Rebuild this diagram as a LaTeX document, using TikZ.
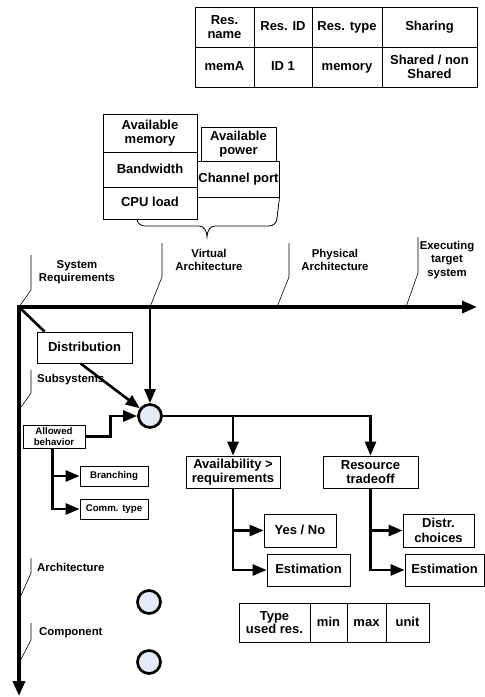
\documentclass[tikz,border=0pt]{standalone}
\usepackage{fontspec}
\setmainfont{Liberation Sans}
\usepackage{xcolor}
\usepackage{tikz}
\usetikzlibrary{arrows.meta, positioning, calc}
\definecolor{hubfill}{RGB}{228,235,246}
\newcommand{\txtsize}[2]{\fontsize{#1}{#2}\selectfont\bfseries}

\begin{document}
\begin{tikzpicture}[
    x=1pt, y=-1pt,
    node distance=0pt,
    cell/.style={rectangle, draw, line width=0.8pt, fill=white, align=center, inner sep=1pt, outer sep=0pt, font=\txtsize{13}{13.5}},
    oneline/.style={text height=9.5pt, text depth=2.5pt},
    block/.style={rectangle, draw, line width=0.8pt, fill=white, align=center, inner sep=1pt, font=\txtsize{13}{14.5}},
    smallblock/.style={block, font=\txtsize{9.7}{11}},
    phase/.style={align=center, inner sep=0pt, font=\txtsize{11.4}{13.5}},
    hub/.style={circle, draw, line width=2.7pt, fill=hubfill, minimum size=23pt, inner sep=0pt},
    arrow/.style={-{Triangle[length=14pt, width=11pt]}, line width=2.6pt},
    thickline/.style={line width=2.6pt},
    timeline/.style={line width=3.4pt, {Triangle[length=15pt, width=12pt]}-{Triangle[length=15pt, width=12pt]}},
    milestone/.style={line width=0.6pt},
    brace/.style={line width=0.8pt}
]
\useasboundingbox (0,0) rectangle (485,697);

% Resource table
\node[cell, minimum width=59pt, minimum height=40pt, anchor=north west] (resname) at (195,7) {Res.\\name};
\node[cell, oneline, minimum width=58pt, minimum height=40pt, right=of resname] (resid) {Res. ID};
\node[cell, oneline, minimum width=70pt, minimum height=40pt, right=of resid] (restype) {Res. type};
\node[cell, oneline, minimum width=95pt, minimum height=40pt, right=of restype] (sharing) {Sharing};
\node[cell, oneline, minimum width=59pt, minimum height=40pt, below=of resname] (mema) {memA};
\node[cell, oneline, minimum width=58pt, minimum height=40pt, below=of resid] (idone) {ID 1};
\node[cell, oneline, minimum width=70pt, minimum height=40pt, below=of restype] (memory) {memory};
\node[cell, minimum width=95pt, minimum height=40pt, below=of sharing] (shared) {Shared / non\\Shared};

% Available resources
\node[cell, minimum width=94pt, minimum height=38pt, anchor=north west] (availmem) at (103,114) {Available\\memory};
\node[cell, oneline, minimum width=94pt, minimum height=35pt, below=of availmem] (bandwidth) {Bandwidth};
\node[cell, oneline, minimum width=94pt, minimum height=32pt, below=of bandwidth] (cpuload) {CPU load};
\node[cell, minimum width=75pt, minimum height=34pt, anchor=north west] (availpow) at (201,127) {Available\\power};
\node[cell, oneline, minimum width=75pt, minimum height=36pt, below=of availpow] (channel) {Channel port};

\draw[brace] ($(cpuload.south west)+(34,0)$) to[out=-90, in=180] ++(8,7) -- (199,226)
    to[out=0, in=90] (207,237) to[out=90, in=180] (215,226) -- (269,226)
    to[out=0, in=-90] (277,218) -- (channel.south east);

% Time line and milestones
\coordinate (o) at (19,307);
\coordinate (tend) at (477,307);
\coordinate (vend) at (19,696);
\coordinate (va) at (150,307);

\foreach \xa/\ys/\yt in {19/290/255, 150/277/243, 277/277/243, 406/273/237}
    \draw[milestone] (\xa,307) -- (\xa+12,\ys) -- (\xa+12,\yt);
\foreach \yb/\ys/\yt in {410/393/370, 600/573/558, 663/640/623}
    \draw[milestone] (19,\yb) -- (31,\ys) -- (31,\yt);

\draw[timeline] (vend) -- (o) -- (tend);

\node[phase] (sysreq) at (77,272) {System\\Requirements};
\node[phase] (virtarch) at (209,260) {Virtual\\Architecture};
\node[phase] (physarch) at (335,260) {Physical\\Architecture};
\node[phase] (exec) at (447,260) {Executing\\target\\system};
\node[phase, anchor=west] (subsys) at (37,380) {Subsystems};
\node[phase, anchor=west] (archi) at (37,567) {Architecture};
\node[phase, anchor=west] (comp) at (39,633) {Component};

% Blocks
\node[block, oneline, minimum width=95pt, minimum height=31pt] (dist) at (84.5,347.5) {Distribution};
\node[smallblock, minimum width=62pt, minimum height=23pt] (allowed) at (54,436.5) {Allowed\\behavior};
\node[smallblock, minimum width=68pt, minimum height=20pt] (branch) at (114,476) {Branching};
\node[smallblock, minimum width=68pt, minimum height=20pt] (comm) at (114,509) {Comm. type};
\node[hub] (c1) at (150,416) {};
\node[block, minimum width=94pt, minimum height=32pt] (avail) at (233,472) {Availability >\\requirements};
\node[block, minimum width=95pt, minimum height=32pt] (tradeoff) at (370.5,472) {Resource\\tradeoff};
\node[block, oneline, minimum width=72pt, minimum height=33pt] (yesno) at (300,530.5) {Yes / No};
\node[block, oneline, minimum width=83pt, minimum height=32pt] (est1) at (308.5,570) {Estimation};
\node[block, minimum width=71pt, minimum height=33pt] (distr) at (438.5,530.5) {Distr.\\choices};
\node[block, oneline, minimum width=79pt, minimum height=32pt] (est2) at (444.5,570) {Estimation};
\node[hub] (c2) at (149,602) {};
\node[hub] (c3) at (149,662) {};

% Connectors
\draw[thickline] (o) -- ($(dist.north west)+(8,0)$);
\draw[arrow] ($(dist.south)+(-4,0)$) -- (c1);
\draw[arrow] (va) -- (c1);
\draw[arrow] (allowed.east) -- ++(25,0) |- (c1);
\draw[arrow] ($(allowed.south west)+(30,0)$) |- (branch);
\draw[arrow] ($(allowed.south west)+(30,0)$) |- (comm);
\draw[arrow] (c1) -| (avail);
\draw[arrow] (c1) -| (tradeoff);
\draw[arrow] (avail) |- (yesno);
\draw[arrow] (avail) |- (est1);
\draw[arrow] (tradeoff) |- (distr);
\draw[arrow] (tradeoff) |- (est2);

% Used resources table
\node[cell, minimum width=71pt, minimum height=39pt, anchor=north west] (typeres) at (239,603) {Type\\used res.};
\node[cell, oneline, minimum width=37pt, minimum height=39pt, right=of typeres] (minval) {min};
\node[cell, oneline, minimum width=39pt, minimum height=39pt, right=of minval] (maxval) {max};
\node[cell, oneline, minimum width=43pt, minimum height=39pt, right=of maxval] (unitval) {unit};

\end{tikzpicture}
\end{document}
